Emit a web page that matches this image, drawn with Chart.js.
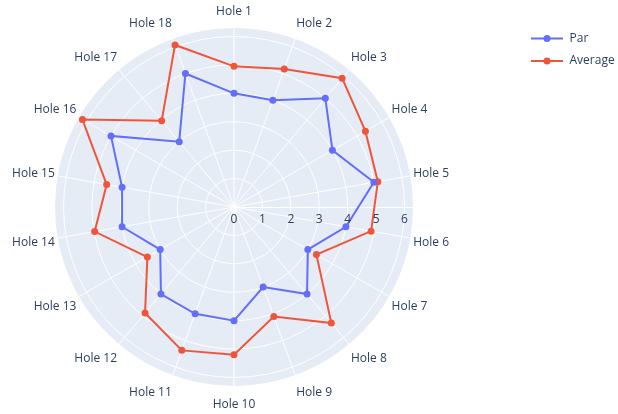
<!DOCTYPE html>
<html lang="en">
<head>
  <meta charset="UTF-8">
  <title>Par vs Average</title>
  <script src="https://cdn.jsdelivr.net/npm/chart.js"></script>
  <style>
    html, body { margin: 0; padding: 0; background: #fff; }
    #wrap { width: 618px; height: 414px; }
  </style>
</head>
<body>
  <div id="wrap"><canvas id="chart" width="618" height="414"></canvas></div>
  <script>
    const holes = ['Hole 1', 'Hole 2', 'Hole 3', 'Hole 4', 'Hole 5', 'Hole 6', 'Hole 7', 'Hole 8', 'Hole 9',
                   'Hole 10', 'Hole 11', 'Hole 12', 'Hole 13', 'Hole 14', 'Hole 15', 'Hole 16', 'Hole 17', 'Hole 18'];
    const par = [4, 4, 5, 4, 5, 4, 3, 4, 3, 4, 4, 4, 3, 4, 4, 5, 3, 5];
    const average = [4.95, 5.17, 5.92, 5.34, 5.14, 4.9, 3.35, 5.33, 4.1, 5.2, 5.37, 4.87, 3.52, 4.98, 4.55, 6.16, 3.96, 6.07];
    const radialTicks = [0, 1, 2, 3, 4, 5, 6];
    const radialMax = 6.3;

    const FONT = '"Open Sans", verdana, arial, sans-serif';
    const TEXT = '#2a3f5f';

    // фон диска, подписи осей и легенда в стиле plotly
    const polarDecor = {
      id: 'polarDecor',
      beforeDraw(chart) {
        const r = chart.scales.r;
        const ctx = chart.ctx;
        ctx.save();
        ctx.fillStyle = '#E5ECF6';
        ctx.beginPath();
        ctx.arc(r.xCenter, r.yCenter, r.getDistanceFromCenterForValue(radialMax), 0, Math.PI * 2);
        ctx.fill();
        ctx.restore();
      },
      beforeDatasetsDraw(chart) {
        const r = chart.scales.r;
        const ctx = chart.ctx;
        ctx.save();
        // радиальная ось вправо
        ctx.strokeStyle = '#fff';
        ctx.lineWidth = 1;
        ctx.beginPath();
        ctx.moveTo(r.xCenter, r.yCenter + 0.5);
        ctx.lineTo(r.xCenter + r.getDistanceFromCenterForValue(radialMax), r.yCenter + 0.5);
        ctx.stroke();
        ctx.restore();
      },
      afterDraw(chart) {
        const r = chart.scales.r;
        const ctx = chart.ctx;
        ctx.save();
        ctx.font = '12px ' + FONT;
        ctx.fillStyle = TEXT;
        ctx.textBaseline = 'middle';

        // подписи лунок
        const D = r.drawingArea + 3;
        chart.data.labels.forEach((lab, i) => {
          const p = r.getPointPosition(i, D);
          const c = Math.cos(p.angle), s = -Math.sin(p.angle);
          ctx.textAlign = Math.abs(c) < 0.02 ? 'center' : (c > 0 ? 'left' : 'right');
          ctx.fillText(lab, p.x, p.y + 1 - 14.5 * s);
        });

        // радиальные тики
        ctx.textAlign = 'center';
        radialTicks.forEach(v => {
          ctx.fillText(String(v), r.xCenter + r.getDistanceFromCenterForValue(v), r.yCenter + 12.5);
        });

        // легенда
        chart.data.datasets.forEach((ds, i) => {
          const y = 38.5 + i * 22.5;
          ctx.strokeStyle = ds.borderColor;
          ctx.lineWidth = 2;
          ctx.beginPath();
          ctx.moveTo(531, y);
          ctx.lineTo(563, y);
          ctx.stroke();
          ctx.fillStyle = ds.borderColor;
          ctx.beginPath();
          ctx.arc(547, y, 3.5, 0, Math.PI * 2);
          ctx.fill();
          ctx.fillStyle = TEXT;
          ctx.textAlign = 'left';
          ctx.fillText(ds.label, 569.5, y);
        });
        ctx.restore();
      }
    };

    new Chart(document.getElementById('chart'), {
      type: 'radar',
      data: {
        labels: holes,
        datasets: [
          { label: 'Par', data: par, borderColor: '#636efa', backgroundColor: '#636efa',
            pointBackgroundColor: '#636efa', fill: false },
          { label: 'Average', data: average, borderColor: '#EF553B', backgroundColor: '#EF553B',
            pointBackgroundColor: '#EF553B', fill: false }
        ]
      },
      options: {
        responsive: false,
        animation: false,
        layout: { padding: { top: 28, bottom: 28, left: 55, right: 205 } },
        elements: {
          line: { borderWidth: 2, tension: 0 },
          point: { radius: 3.5, borderWidth: 0, hoverRadius: 4 }
        },
        plugins: { legend: { display: false }, tooltip: { enabled: false } },
        scales: {
          r: {
            min: 0,
            max: radialMax,
            ticks: { stepSize: 1, display: false },
            grid: { circular: true, color: c => (c.tick && c.tick.value > 6) ? 'rgba(0,0,0,0)' : '#ffffff', lineWidth: 1 },
            angleLines: { color: '#ffffff', lineWidth: 1 },
            pointLabels: { display: false }
          }
        }
      },
      plugins: [polarDecor]
    });
  </script>
</body>
</html>
